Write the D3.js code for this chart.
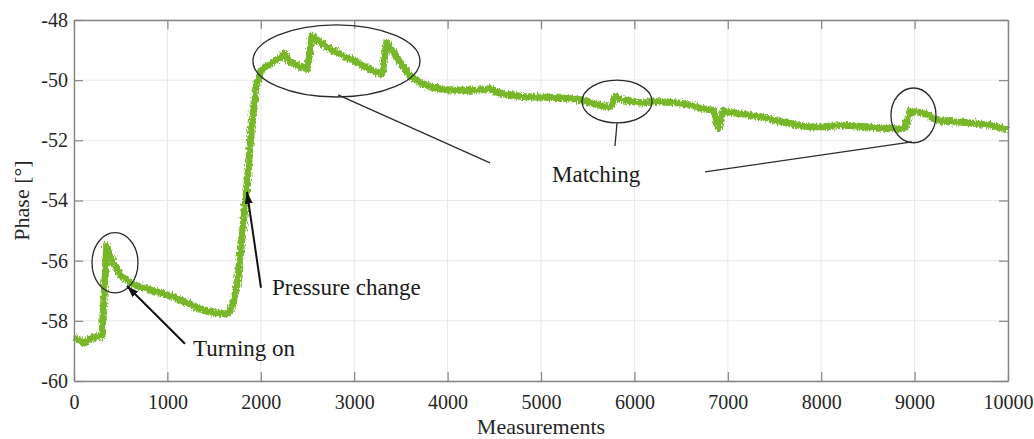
<!DOCTYPE html>
<html>
<head>
<meta charset="utf-8">
<script src="https://cdn.jsdelivr.net/npm/d3@7"></script>
<style>
  html, body { margin: 0; padding: 0; background: #fff; }
  svg { display: block; }
  text { font-family: "Liberation Serif", "Times New Roman", serif; }
</style>
</head>
<body>
<svg id="chart" width="1034" height="439"></svg>
<script>
// Phase readings sampled every 50 measurements (0 … 10000)
const sampleStep = 50;
const phase = [
  -58.55, -58.62, -58.75, -58.62, -58.58, -58.52, -58.50, -55.50, -55.95, -56.22,
  -56.48, -56.60, -56.74, -56.80, -56.86, -56.90, -56.96, -57.00, -57.05, -57.09,
  -57.15, -57.19, -57.27, -57.32, -57.40, -57.45, -57.55, -57.60, -57.67, -57.70,
  -57.72, -57.74, -57.78, -57.74, -57.48, -56.70, -55.20, -53.60, -51.60, -50.20,
  -49.72, -49.55, -49.46, -49.36, -49.28, -49.12, -49.36, -49.44, -49.52, -49.58,
  -49.64, -48.52, -48.66, -48.78, -48.90, -48.98, -49.06, -49.13, -49.22, -49.28,
  -49.36, -49.44, -49.54, -49.60, -49.70, -49.76, -49.80, -48.74, -48.98, -49.20,
  -49.46, -49.64, -49.86, -49.96, -50.08, -50.14, -50.20, -50.24, -50.28, -50.30,
  -50.33, -50.32, -50.34, -50.33, -50.34, -50.33, -50.34, -50.32, -50.31, -50.26,
  -50.38, -50.41, -50.46, -50.47, -50.51, -50.52, -50.55, -50.55, -50.56, -50.56,
  -50.57, -50.57, -50.58, -50.58, -50.60, -50.60, -50.62, -50.62, -50.64, -50.66,
  -50.72, -50.76, -50.82, -50.84, -50.88, -50.88, -50.54, -50.64, -50.66, -50.70,
  -50.72, -50.75, -50.75, -50.74, -50.72, -50.72, -50.72, -50.73, -50.74, -50.76,
  -50.77, -50.80, -50.83, -50.87, -50.91, -50.96, -50.98, -51.01, -51.60, -51.03,
  -51.06, -51.08, -51.10, -51.12, -51.15, -51.17, -51.20, -51.22, -51.26, -51.29,
  -51.34, -51.36, -51.40, -51.43, -51.47, -51.49, -51.53, -51.54, -51.56, -51.56,
  -51.56, -51.54, -51.53, -51.52, -51.51, -51.50, -51.51, -51.52, -51.53, -51.54,
  -51.56, -51.57, -51.58, -51.59, -51.61, -51.61, -51.62, -51.61, -51.59, -51.02,
  -51.05, -51.07, -51.10, -51.16, -51.28, -51.32, -51.35, -51.36, -51.38, -51.39,
  -51.40, -51.41, -51.42, -51.43, -51.46, -51.47, -51.50, -51.52, -51.56, -51.60,
  -51.68
];
const measurements = phase.map((_, i) => i * sampleStep);

const xTicks = [0, 1000, 2000, 3000, 4000, 5000, 6000, 7000, 8000, 9000, 10000];
const yTicks = [-60, -58, -56, -54, -52, -50, -48];

// Annotation geometry, in data units (measurement, phase)
const ellipses = [
  { m: 439,  v: -56.07, rm: 246, rv: 1.00 },
  { m: 2810, v: -49.36, rm: 894, rv: 1.20 },
  { m: 5814, v: -50.71, rm: 375, rv: 0.71 },
  { m: 8988, v: -51.17, rm: 241, rv: 0.91 }
];
const connectors = [
  { m1: 2827, v1: -50.49, m2: 4454, v2: -52.75 },
  { m1: 5814, v1: -51.42, m2: 5792, v2: -52.19 },
  { m1: 6756, v1: -53.05, m2: 8972, v2: -52.05 }
];
const arrows = [
  { m1: 1188, v1: -58.76, m2: 567,  v2: -56.84 },
  { m1: 2002, v1: -56.90, m2: 1852, v2: -53.71 }
];
const notes = [
  { text: "Turning on",      m: 1274, v: -59.16 },
  { text: "Pressure change", m: 2120, v: -57.14 },
  { text: "Matching",        m: 5118, v: -53.38 }
];

const svg = d3.select("#chart");
const W = 1034, H = 439;
const margin = { left: 74, top: 20, right: W - 1008, bottom: H - 381 };
const x = d3.scaleLinear().domain([0, 10000]).range([margin.left, W - margin.right]);
const y = d3.scaleLinear().domain([-60, -48]).range([H - margin.bottom, margin.top]);

const axisColor = "#848484";
const labelColor = "#262626";
const plain = d => String(d);

// measurement-noise texture for the trace
const defs = svg.append("defs");
const noise = defs.append("filter").attr("id", "noisy")
  .attr("x", "-2%").attr("y", "-10%").attr("width", "104%").attr("height", "120%");
noise.append("feTurbulence").attr("type", "fractalNoise")
  .attr("baseFrequency", "0.8 0.3").attr("numOctaves", 2).attr("seed", 3).attr("result", "t");
noise.append("feDisplacementMap").attr("in", "SourceGraphic").attr("in2", "t")
  .attr("scale", 6).attr("xChannelSelector", "R").attr("yChannelSelector", "G");

defs.append("marker")
  .attr("id", "head").attr("viewBox", "0 0 12 8")
  .attr("refX", 12).attr("refY", 4)
  .attr("markerWidth", 12).attr("markerHeight", 8)
  .attr("markerUnits", "userSpaceOnUse")
  .attr("orient", "auto")
  .append("path").attr("d", "M0,0 L12,4 L0,8 Z").attr("fill", "#111");

// grid
const grid = svg.append("g");
grid.selectAll("line.gx").data(xTicks).join("line")
  .attr("class", "gx")
  .attr("x1", d => x(d)).attr("x2", d => x(d))
  .attr("y1", y(-60)).attr("y2", y(-48))
  .attr("stroke", "#e8e8e8").attr("stroke-width", 1);
grid.selectAll("line.gy").data(yTicks).join("line")
  .attr("class", "gy")
  .attr("y1", d => y(d)).attr("y2", d => y(d))
  .attr("x1", x(0)).attr("x2", x(10000))
  .attr("stroke", "#e8e8e8").attr("stroke-width", 1);

// data trace
const line = d3.line()
  .x((d, i) => x(measurements[i]))
  .y(d => y(d));
svg.append("path")
  .datum(phase)
  .attr("d", line)
  .attr("fill", "none")
  .attr("stroke", "#78b62c")
  .attr("stroke-width", 7)
  .attr("stroke-linejoin", "round")
  .attr("filter", "url(#noisy)");

// axes (box with inward ticks on all sides)
function styleAxis(g) {
  g.select(".domain").attr("stroke", axisColor).attr("stroke-width", 1.4);
  g.selectAll(".tick line").attr("stroke", axisColor).attr("stroke-width", 1.2);
  g.selectAll(".tick text").attr("fill", labelColor).attr("font-size", 20)
    .attr("font-family", "Liberation Serif, serif");
}
const tickLen = 9;
svg.append("g")
  .attr("transform", `translate(0,${y(-60)})`)
  .call(d3.axisBottom(x).tickValues(xTicks).tickFormat(plain).tickSize(-tickLen).tickPadding(14).tickSizeOuter(0))
  .call(styleAxis);
svg.append("g")
  .attr("transform", `translate(0,${y(-48)})`)
  .call(d3.axisTop(x).tickValues(xTicks).tickSize(-tickLen).tickFormat("").tickSizeOuter(0))
  .call(styleAxis);
svg.append("g")
  .attr("transform", `translate(${x(0)},0)`)
  .call(d3.axisLeft(y).tickValues(yTicks).tickFormat(plain).tickSize(-tickLen).tickPadding(6).tickSizeOuter(0))
  .call(styleAxis);
svg.append("g")
  .attr("transform", `translate(${x(10000)},0)`)
  .call(d3.axisRight(y).tickValues(yTicks).tickSize(-tickLen).tickFormat("").tickSizeOuter(0))
  .call(styleAxis);

// axis titles
svg.append("text")
  .attr("x", (x(0) + x(10000)) / 2).attr("y", 434)
  .attr("text-anchor", "middle").attr("font-size", 22).attr("fill", labelColor)
  .text("Measurements");
svg.append("text")
  .attr("transform", `translate(29,${(y(-60) + y(-48)) / 2}) rotate(-90)`)
  .attr("text-anchor", "middle").attr("font-size", 22).attr("fill", labelColor)
  .text("Phase [°]");

// annotations
const ann = svg.append("g");
ann.selectAll("ellipse").data(ellipses).join("ellipse")
  .attr("cx", d => x(d.m)).attr("cy", d => y(d.v))
  .attr("rx", d => x(d.rm) - x(0)).attr("ry", d => y(-60) - y(-60 + d.rv))
  .attr("fill", "none").attr("stroke", "#2b2b2b").attr("stroke-width", 1.3);
ann.selectAll("line.conn").data(connectors).join("line")
  .attr("class", "conn")
  .attr("x1", d => x(d.m1)).attr("y1", d => y(d.v1))
  .attr("x2", d => x(d.m2)).attr("y2", d => y(d.v2))
  .attr("stroke", "#2b2b2b").attr("stroke-width", 1.3);
ann.selectAll("line.arrow").data(arrows).join("line")
  .attr("class", "arrow")
  .attr("x1", d => x(d.m1)).attr("y1", d => y(d.v1))
  .attr("x2", d => x(d.m2)).attr("y2", d => y(d.v2))
  .attr("stroke", "#111").attr("stroke-width", 2)
  .attr("marker-end", "url(#head)");
ann.selectAll("text").data(notes).join("text")
  .attr("x", d => x(d.m)).attr("y", d => y(d.v))
  .attr("font-size", 23).attr("fill", "#1a1a1a")
  .text(d => d.text);
</script>
</body>
</html>
